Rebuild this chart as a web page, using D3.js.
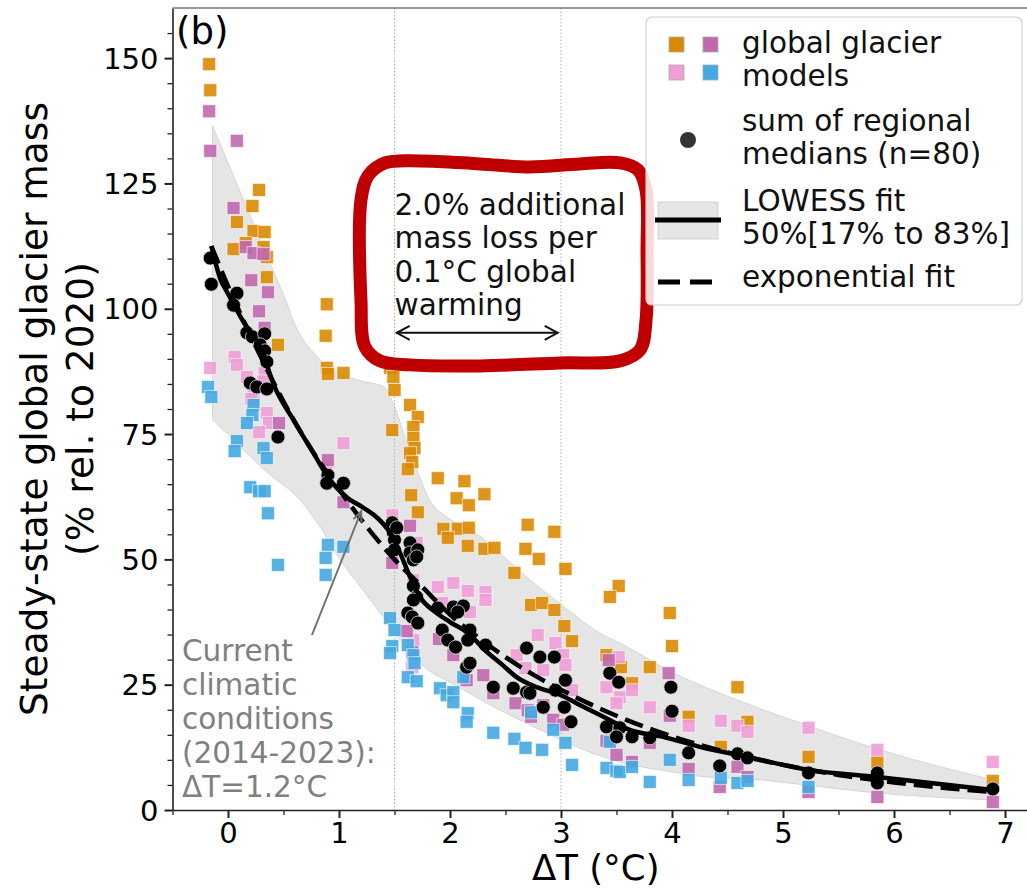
<!DOCTYPE html>
<html>
<head>
<meta charset="utf-8">
<script src="https://cdn.jsdelivr.net/npm/d3@7"></script>
<style>
  body { margin: 0; background: #fff; }
  svg { font-family: "DejaVu Sans", sans-serif; }
</style>
</head>
<body>
<div id="chart"></div>
<script>
// model results, [ΔT, mass %]
const orangeModel = [
  [-0.17, 148.8], [-0.16, 143.6], [0.28, 123.7], [0.22, 120.5], [0.08, 117.3], [0.23, 115.5], [0.33, 115.3],
  [0.05, 111.9], [0.16, 113.1], [0.32, 112.3], [0.35, 110.3], [0.35, 106.3], [0.45, 92.8], [0.89, 100.9],
  [0.88, 94.6], [0.89, 88.2], [0.90, 87.0], [1.04, 87.2], [1.46, 88.2], [1.49, 86.4], [1.50, 83.8],
  [1.48, 75.8], [1.64, 80.8], [1.71, 78.4], [1.67, 76.4], [1.67, 74.2], [1.68, 72.2], [1.64, 71.2],
  [1.66, 69.4], [1.62, 68.0], [1.89, 66.2], [2.13, 65.6], [2.06, 62.2], [2.17, 60.8], [2.31, 63.0],
  [1.65, 62.8], [1.71, 59.4], [1.94, 56.1], [2.07, 56.1], [2.17, 56.3], [1.98, 54.3], [2.16, 52.7],
  [2.31, 52.1], [2.40, 52.3], [2.70, 56.9], [2.94, 55.5], [2.68, 52.1], [2.80, 50.1], [2.58, 47.3],
  [3.04, 48.1], [3.52, 44.7], [3.44, 42.5], [2.73, 40.9], [2.83, 41.3], [2.94, 39.9], [3.03, 36.7],
  [3.10, 33.7], [3.98, 39.3], [4.00, 32.7], [3.41, 30.9], [3.54, 28.5], [3.80, 28.5], [3.64, 25.3],
  [4.15, 18.6], [4.59, 24.5], [4.68, 17.6], [4.44, 12.6], [5.23, 10.6], [5.85, 9.6], [6.89, 5.8]
];
const pinkModel = [
  [-0.16, 88.2], [0.06, 90.4], [0.08, 88.8], [0.17, 86.4], [0.23, 82.8], [0.33, 87.2], [0.32, 85.5],
  [0.35, 79.2], [0.37, 77.2], [0.28, 75.4], [0.21, 82.0], [0.89, 68.8], [1.04, 73.2], [1.48, 58.8],
  [1.70, 53.3], [1.67, 45.9], [1.89, 44.5], [2.03, 45.3], [2.16, 43.7], [2.32, 43.5], [2.32, 41.9],
  [1.93, 41.3], [2.18, 39.5], [1.67, 33.9], [1.66, 28.5], [2.60, 30.9], [2.68, 28.3], [2.79, 34.9],
  [2.84, 27.9], [2.95, 33.3], [3.02, 30.9], [3.04, 28.9], [3.10, 23.9], [3.41, 24.5], [3.52, 30.5],
  [3.53, 22.5], [3.50, 21.3], [3.64, 23.9], [3.80, 20.5], [4.15, 16.8], [4.44, 17.8], [4.59, 16.8],
  [4.68, 15.6], [5.23, 16.4], [5.85, 12.0], [6.89, 9.6]
];
const purpleModel = [
  [-0.17, 139.4], [-0.16, 131.5], [0.08, 133.5], [0.05, 120.1], [0.16, 112.3], [0.23, 111.1], [0.32, 110.9],
  [0.21, 105.7], [0.36, 103.3], [0.28, 99.5], [0.33, 96.2], [0.46, 77.2], [0.90, 69.8], [1.04, 61.4],
  [1.64, 56.7], [1.48, 49.3], [1.61, 35.7], [1.66, 31.5], [1.90, 34.1], [2.03, 30.9], [2.15, 25.9],
  [2.30, 26.9], [2.39, 23.3], [2.59, 21.3], [2.70, 19.9], [2.73, 18.6], [2.84, 20.9], [2.93, 18.0],
  [3.02, 17.0], [3.41, 13.8], [3.43, 29.9], [3.50, 11.0], [3.64, 9.6], [3.80, 13.4], [3.97, 27.3],
  [3.98, 18.8], [4.15, 8.2], [4.43, 4.6], [4.59, 8.6], [4.68, 6.6], [5.23, 3.6], [5.85, 2.6], [6.89, 1.6]
];
const blueModel = [
  [-0.18, 84.4], [-0.15, 82.4], [0.23, 80.8], [0.22, 78.8], [0.17, 77.2], [0.08, 73.6], [0.06, 71.6],
  [0.32, 72.2], [0.35, 70.2], [0.20, 64.4], [0.28, 63.6], [0.33, 63.6], [0.36, 59.2], [0.45, 48.9],
  [0.90, 52.9], [1.04, 52.5], [0.88, 50.3], [0.88, 46.9], [1.46, 38.3], [1.50, 35.9], [1.48, 32.7],
  [1.46, 31.3], [1.62, 32.9], [1.67, 30.9], [1.68, 29.3], [1.62, 26.5], [1.70, 25.7], [1.91, 24.3],
  [1.97, 22.9], [2.03, 23.5], [2.03, 21.5], [2.12, 26.5], [2.16, 19.3], [2.15, 17.6], [2.39, 15.4],
  [2.58, 14.2], [2.68, 12.4], [2.83, 12.0], [2.73, 19.5], [2.93, 16.0], [3.04, 13.4], [3.10, 9.0],
  [3.41, 8.4], [3.44, 13.6], [3.50, 7.8], [3.53, 7.6], [3.64, 8.6], [3.80, 5.6], [3.98, 10.0],
  [4.15, 6.0], [4.44, 6.4], [4.59, 5.4], [4.68, 5.8], [5.23, 4.6]
];
// sum of regional medians
const regionalMedians = [
  [-0.16, 110.1], [-0.15, 104.9], [0.08, 103.1], [0.05, 100.7], [0.17, 95.2], [0.22, 94.4], [0.33, 95.0],
  [0.29, 92.8], [0.33, 91.6], [0.35, 89.4], [0.20, 85.2], [0.26, 84.4], [0.35, 84.0], [0.45, 74.4],
  [0.90, 66.8], [0.89, 65.2], [1.04, 65.2],
  [1.48, 57.3], [1.49, 55.3], [1.50, 53.9], [1.50, 51.9], [1.52, 56.3], [1.64, 53.3], [1.64, 51.3],
  [1.71, 51.9], [1.67, 49.9], [1.70, 50.5], [1.67, 44.7], [1.70, 42.5], [1.67, 41.9], [1.62, 39.3],
  [1.66, 38.5], [1.71, 37.3], [1.89, 40.3], [2.03, 40.5], [2.12, 40.7], [2.07, 39.5], [1.93, 35.9],
  [1.98, 33.9], [2.05, 32.5], [2.18, 35.9], [2.16, 33.9], [2.32, 32.9], [2.15, 28.5], [2.18, 29.3],
  [2.39, 24.5], [2.57, 24.3], [2.69, 23.5], [2.72, 23.3], [2.84, 20.5], [2.69, 32.3], [2.81, 30.5],
  [2.94, 30.5], [3.04, 25.9], [2.95, 23.9], [3.03, 20.5], [3.09, 17.6],
  [3.44, 27.3], [3.52, 25.5], [3.41, 16.6], [3.53, 16.4], [3.50, 14.6], [3.64, 14.6], [3.80, 14.4],
  [3.99, 24.5], [4.00, 19.7], [4.15, 11.4], [4.43, 8.8], [4.59, 11.2], [4.68, 10.4], [5.23, 7.4],
  [5.85, 7.4], [5.85, 5.4], [6.89, 4.2]
];
// LOWESS median and its 17-83% band
const lowessFit = [
  [-0.15, 112.5], [-0.07, 106], [0.0, 103], [0.15, 97], [0.29, 92.4], [0.42, 84.4], [0.59, 77.8],
  [0.77, 71.2], [0.92, 65.8], [1.07, 62.4], [1.22, 60.3], [1.34, 58.4], [1.46, 55.3], [1.55, 51.3],
  [1.64, 46.5], [1.73, 42.5], [1.88, 39.3], [2.0, 37.5], [2.18, 35.0], [2.3, 32.2], [2.48, 28.8],
  [2.6, 26.5], [2.78, 24.5], [2.99, 23.0], [3.2, 20.6], [3.4, 18.4], [3.62, 16.0], [3.92, 14.6],
  [4.25, 12.6], [4.68, 10.6], [5.23, 8.0], [5.85, 6.6], [6.89, 4.0]
];
const bandT    = [-0.14, 0.0, 0.2, 0.4, 0.52, 0.6, 0.8, 1.0, 1.2, 1.4, 1.5, 1.6, 1.7, 1.8, 2.0, 2.2, 2.4, 2.7, 3.0, 3.3, 3.6, 4.0, 4.3, 4.7, 5.2, 5.8, 6.89];
const bandHigh = [136.5, 129.1, 118.6, 108.0, 101.7, 97.0, 90.5, 87.2, 85.6, 84.5, 80.5, 74.0, 68.0, 62.5, 58.0, 55.7, 52.2, 46.3, 41.0, 36.0, 32.5, 27.5, 24.5, 21.0, 17.0, 12.5, 6.0];
const bandLow  = [77.8, 75.0, 70.5, 66.5, 64.5, 63.0, 57.5, 50.3, 44.3, 38.5, 35.5, 32.5, 30.0, 28.0, 25.5, 23.0, 20.5, 17.2, 14.0, 11.2, 9.2, 7.6, 6.6, 6.2, 5.0, 3.5, 2.0];
// exponential fit
const expFit = [
  [-0.15, 112.5], [0.0, 104.5], [0.25, 92.5], [0.5, 81.5], [0.75, 72], [1.0, 64], [1.25, 56.5],
  [1.5, 50], [1.75, 44.5], [2.0, 39], [2.25, 34.5], [2.5, 30.5], [2.75, 27], [3.0, 24], [3.5, 18.8],
  [4.0, 14.7], [4.5, 11.5], [5.0, 9.0], [5.5, 7.0], [6.0, 5.5], [6.5, 4.3], [6.89, 3.6]
];

const xTicks = [0, 1, 2, 3, 4, 5, 6, 7];
const yTicks = [0, 25, 50, 75, 100, 125, 150];
const refLines = [1.5, 3.0];

const boxLines = ["2.0% additional", "mass loss per", "0.1°C global", "warming"];
const noteLines = ["Current", "climatic", "conditions", "(2014-2023):", "ΔT=1.2°C"];
// hand-drawn red outline, in data units
const redOutline = [
  [1.198, 121.7], [1.261, 126.5], [1.414, 129.1], [1.730, 129.5], [2.270, 128.9], [2.721, 128.3],
  [3.171, 128.9], [3.532, 129.1], [3.694, 127.7], [3.766, 123.7], [3.775, 111.7], [3.766, 97.7],
  [3.712, 91.8], [3.532, 89.6], [2.991, 89.2], [2.270, 88.6], [1.640, 88.8], [1.369, 89.6],
  [1.234, 92.4], [1.198, 101.7]
];

const width = 1027, height = 892;
const svg = d3.select("#chart").append("svg")
  .attr("width", width).attr("height", height);

const x = d3.scaleLinear().domain([-0.5, 7.2]).range([172.5, 1027.2]);
const y = d3.scaleLinear().domain([0, 160]).range([810, 8]);

const colors = { orange: "#d98a03", purple: "#c068ae", pink: "#ee9fd6", blue: "#45a8e0" };

// uncertainty band
const band = bandT.map((t, i) => ({ t, lo: bandLow[i], hi: bandHigh[i] }));
svg.append("path")
  .datum(band)
  .attr("d", d3.area().x(d => x(d.t)).y0(d => y(d.lo)).y1(d => y(d.hi)).curve(d3.curveMonotoneX))
  .attr("fill", "#e5e5e5")
  .attr("stroke", "#d6d6d6")
  .attr("stroke-width", 1);

// dotted reference lines
svg.selectAll(".ref").data(refLines).enter().append("line")
  .attr("x1", d => x(d)).attr("x2", d => x(d))
  .attr("y1", y(160)).attr("y2", y(0))
  .attr("stroke", "#b0b0b0").attr("stroke-width", 1)
  .attr("stroke-dasharray", "1.5,2");

// model squares
const sq = 13;
[[orangeModel, colors.orange], [pinkModel, colors.pink], [purpleModel, colors.purple], [blueModel, colors.blue]]
  .forEach(([data, c]) => {
    svg.append("g").selectAll("rect").data(data).enter().append("rect")
      .attr("x", d => x(d[0]) - sq / 2)
      .attr("y", d => y(d[1]) - sq / 2)
      .attr("width", sq).attr("height", sq)
      .attr("fill", c).attr("fill-opacity", 0.9)
      .attr("stroke", "#fff").attr("stroke-opacity", 0.6).attr("stroke-width", 1);
  });

// regional medians
svg.append("g").selectAll("circle").data(regionalMedians).enter().append("circle")
  .attr("cx", d => x(d[0])).attr("cy", d => y(d[1]))
  .attr("r", 7)
  .attr("fill", "#000")
  .attr("stroke", "#ddd").attr("stroke-width", 0.8);

// fits
const line = d3.line().x(d => x(d[0])).y(d => y(d[1])).curve(d3.curveMonotoneX);
svg.append("path").datum(lowessFit).attr("d", line)
  .attr("fill", "none").attr("stroke", "#000").attr("stroke-width", 4.5);
svg.append("path").datum(expFit).attr("d", line)
  .attr("fill", "none").attr("stroke", "#000").attr("stroke-width", 4.5)
  .attr("stroke-dasharray", "19,8");

// axes
const xAxis = svg.append("g").attr("transform", `translate(0,${y(0)})`)
  .call(d3.axisBottom(x).tickValues(xTicks).tickSize(8).tickSizeOuter(0).tickPadding(4));
const xMinor = svg.append("g").attr("transform", `translate(0,${y(0)})`)
  .call(d3.axisBottom(x).tickValues(d3.range(-0.5, 7.01, 0.5).filter(v => !xTicks.includes(v))).tickSize(5).tickSizeOuter(0).tickFormat(""));
const yAxis = svg.append("g").attr("transform", `translate(${x(-0.5)},0)`)
  .call(d3.axisLeft(y).tickValues(yTicks).tickSize(8).tickSizeOuter(0).tickPadding(6));
const yMinor = svg.append("g").attr("transform", `translate(${x(-0.5)},0)`)
  .call(d3.axisLeft(y).tickValues(d3.range(5, 160, 5).filter(v => !yTicks.includes(v))).tickSize(5).tickSizeOuter(0).tickFormat(""));

[xAxis, yAxis].forEach(g => {
  g.select(".domain").attr("stroke", "#222").attr("stroke-width", 1.6);
  g.selectAll(".tick line").attr("stroke", "#222").attr("stroke-width", 2);
  g.selectAll(".tick text").attr("font-size", 29).attr("fill", "#000")
    .attr("font-family", "DejaVu Sans, sans-serif");
});
[xMinor, yMinor].forEach(g => {
  g.select(".domain").remove();
  g.selectAll(".tick line").attr("stroke", "#222").attr("stroke-width", 1.3);
});
yAxis.selectAll(".tick text").attr("dy", "0.35em");

// top spine
svg.append("line").attr("x1", x(-0.5)).attr("x2", width).attr("y1", y(160)).attr("y2", y(160))
  .attr("stroke", "#777").attr("stroke-width", 1.6);

// axis labels
svg.append("text")
  .attr("x", (x(-0.5) + width) / 2 - 4).attr("y", 880)
  .attr("text-anchor", "middle").attr("font-size", 35.5)
  .text("ΔT (°C)");
const ylab = svg.append("text")
  .attr("transform", `translate(0,${y(80)}) rotate(-90)`)
  .attr("text-anchor", "middle").attr("font-size", 37.5);
ylab.append("tspan").attr("x", 0).attr("y", 47).text("Steady-state global glacier mass");
ylab.append("tspan").attr("x", 0).attr("y", 93).text("(% rel. to 2020)");

// panel tag
svg.append("text").attr("x", 176).attr("y", 44).attr("font-size", 37).text("(b)");

// annotation box
svg.append("g").selectAll("text").data(boxLines).enter().append("text")
  .attr("x", x(1.5)).attr("y", (d, i) => 215 + i * 33.3)
  .attr("font-size", 29.5).attr("fill", "#111")
  .text(d => d);

const ay = y(95.2);
const arrow = svg.append("g").attr("stroke", "#111").attr("stroke-width", 2).attr("fill", "none");
arrow.append("line").attr("x1", x(1.52)).attr("x2", x(2.97)).attr("y1", ay).attr("y2", ay);
arrow.append("path").attr("d", `M${x(1.52) + 13},${ay - 7} L${x(1.52)},${ay} L${x(1.52) + 13},${ay + 7}`);
arrow.append("path").attr("d", `M${x(2.97) - 13},${ay - 7} L${x(2.97)},${ay} L${x(2.97) - 13},${ay + 7}`);

svg.append("path").datum(redOutline)
  .attr("d", d3.line().x(d => x(d[0])).y(d => y(d[1])).curve(d3.curveCatmullRomClosed))
  .attr("fill", "none").attr("stroke", "#c00000").attr("stroke-width", 13);

// current climate note
svg.append("g").selectAll("text").data(noteLines).enter().append("text")
  .attr("x", 182).attr("y", (d, i) => 661 + i * 34)
  .attr("font-size", 29.5).attr("fill", "#808080")
  .text(d => d);
const nx1 = 312, ny1 = 635, nx2 = x(1.2), ny2 = y(59.6);
const ang = Math.atan2(ny2 - ny1, nx2 - nx1);
svg.append("line").attr("x1", nx1).attr("y1", ny1).attr("x2", nx2).attr("y2", ny2)
  .attr("stroke", "#707070").attr("stroke-width", 2);
svg.append("path")
  .attr("d", `M${nx2 - 11 * Math.cos(ang - 0.4)},${ny2 - 11 * Math.sin(ang - 0.4)} L${nx2},${ny2} L${nx2 - 11 * Math.cos(ang + 0.4)},${ny2 - 11 * Math.sin(ang + 0.4)}`)
  .attr("fill", "none").attr("stroke", "#707070").attr("stroke-width", 2);

// legend
const lg = svg.append("g");
lg.append("rect").attr("x", 646).attr("y", 17).attr("width", 376).attr("height", 288)
  .attr("rx", 6).attr("fill", "#fff").attr("fill-opacity", 0.85)
  .attr("stroke", "#d0d0d0").attr("stroke-width", 1.2);
const legSq = [[669, 37, colors.orange], [703, 37, colors.purple], [669, 65, colors.pink], [703, 65, colors.blue]];
lg.selectAll(".lsq").data(legSq).enter().append("rect")
  .attr("x", d => d[0]).attr("y", d => d[1]).attr("width", 15).attr("height", 15)
  .attr("fill", d => d[2]).attr("stroke", "#aaa").attr("stroke-width", 0.8);
lg.append("circle").attr("cx", 688).attr("cy", 140).attr("r", 8).attr("fill", "#333");
lg.append("rect").attr("x", 658).attr("y", 202).attr("width", 60).attr("height", 37)
  .attr("fill", "#e5e5e5").attr("stroke", "#d0d0d0").attr("stroke-width", 1);
lg.append("line").attr("x1", 655).attr("x2", 721).attr("y1", 220).attr("y2", 220)
  .attr("stroke", "#000").attr("stroke-width", 5);
lg.append("line").attr("x1", 658).attr("x2", 713).attr("y1", 282).attr("y2", 282)
  .attr("stroke", "#000").attr("stroke-width", 5).attr("stroke-dasharray", "22,10");
const legText = [
  ["global glacier", 53], ["models", 86], ["sum of regional", 131], ["medians (n=80)", 164],
  ["LOWESS fit", 211], ["50%[17% to 83%]", 244], ["exponential fit", 287]
];
lg.selectAll(".lt").data(legText).enter().append("text")
  .attr("x", 742).attr("y", d => d[1])
  .attr("font-size", 29.5).attr("fill", "#111")
  .text(d => d[0]);
</script>
</body>
</html>
